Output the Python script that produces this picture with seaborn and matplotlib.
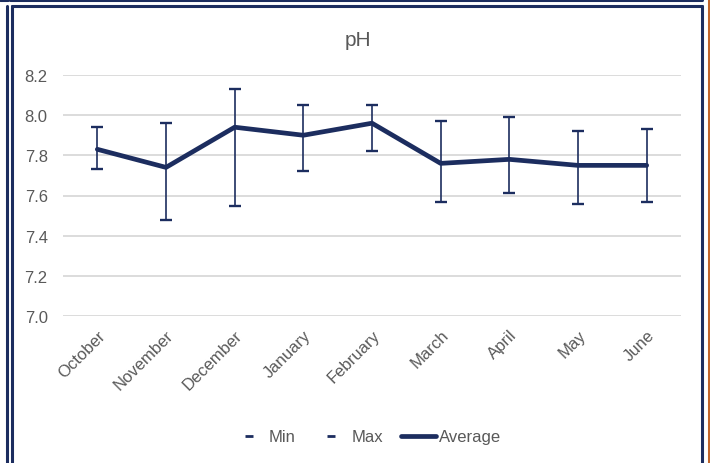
import pandas as pd
import matplotlib
matplotlib.use("Agg")
import matplotlib.pyplot as plt
import seaborn as sns
from matplotlib.lines import Line2D

# datos del grafico de pH
meses = ['October', 'November', 'December', 'January', 'February',
         'March', 'April', 'May', 'June']
ph_promedio = [7.83, 7.74, 7.94, 7.90, 7.96, 7.76, 7.78, 7.75, 7.75]
ph_min = [7.73, 7.48, 7.55, 7.72, 7.82, 7.57, 7.61, 7.56, 7.57]
ph_max = [7.94, 7.96, 8.13, 8.05, 8.05, 7.97, 7.99, 7.92, 7.93]

ph_df = pd.DataFrame({'mes': meses, 'Average': ph_promedio,
                      'Min': ph_min, 'Max': ph_max})

navy = '#1c2d5f'
gris = '#595959'

sns.set_style("white")
plt.rcParams['font.family'] = ['Liberation Sans', 'DejaVu Sans']

fig = plt.figure(figsize=(7.1, 4.64), dpi=100)
ax = fig.add_axes([63/710, 1 - 317/464, (681 - 63)/710, (317 - 76)/464])

# barras de error min / max
x = range(len(meses))
ax.errorbar(x, ph_df['Average'],
            yerr=[ph_df['Average'] - ph_df['Min'], ph_df['Max'] - ph_df['Average']],
            fmt='none', ecolor=navy, elinewidth=1.2, capsize=4.3, capthick=1.7, zorder=3)

# linea del promedio
sns.lineplot(data=ph_df, x='mes', y='Average', sort=False, color=navy,
             linewidth=3.4, ax=ax, zorder=4)

ax.set_ylim(7.0, 8.2)
ax.set_xlim(-0.5, len(meses) - 0.5)
ax.set_yticks([7.0, 7.2, 7.4, 7.6, 7.8, 8.0, 8.2])
ax.set_yticklabels([f'{v:.1f}' for v in [7.0, 7.2, 7.4, 7.6, 7.8, 8.0, 8.2]])
ax.yaxis.grid(True, color='#d9d9d9', linewidth=1.3)
ax.set_axisbelow(True)
sns.despine(ax=ax, left=True, bottom=True)
ax.tick_params(axis='both', length=0, labelsize=12, labelcolor=gris)
ax.tick_params(axis='y', pad=11)
ax.tick_params(axis='x', pad=8)
plt.setp(ax.get_xticklabels(), rotation=45, ha='right', rotation_mode='anchor')
ax.set_xlabel('')
ax.set_ylabel('')

fig.text(358/710, 1 - 40/464, 'pH', ha='center', va='center', fontsize=15, color=gris)

# leyenda
handles = [Line2D([], [], color=navy, marker='_', linestyle='none', markersize=6, markeredgewidth=2),
           Line2D([], [], color=navy, marker='_', linestyle='none', markersize=6, markeredgewidth=2),
           Line2D([], [], color=navy, linewidth=3.4)]
fig.legend(handles, ['Min', 'Max', 'Average'], loc='center', bbox_to_anchor=(366/710, 1 - 438/464),
           ncol=3, frameon=False, fontsize=12, labelcolor=gris, handlelength=2.1,
           handletextpad=0.15, columnspacing=1.1)

# marcos del recuadro
def linea(x0, y0, x1, y1, color=navy, lw=2.2):
    fig.add_artist(Line2D([x0/710, x1/710], [1 - y0/464, 1 - y1/464],
                          color=color, linewidth=lw, transform=fig.transFigure))

linea(0, 1, 8, 1)
linea(10, 1, 702, 1)
linea(6.5, 7, 6.5, 464)
linea(11.5, 7, 11.5, 464)
linea(11.5, 7, 702, 7)
linea(701.5, 7, 701.5, 464)
linea(708.5, 0, 708.5, 464, color='#c0652a')

fig.savefig('out.png', dpi=100)
